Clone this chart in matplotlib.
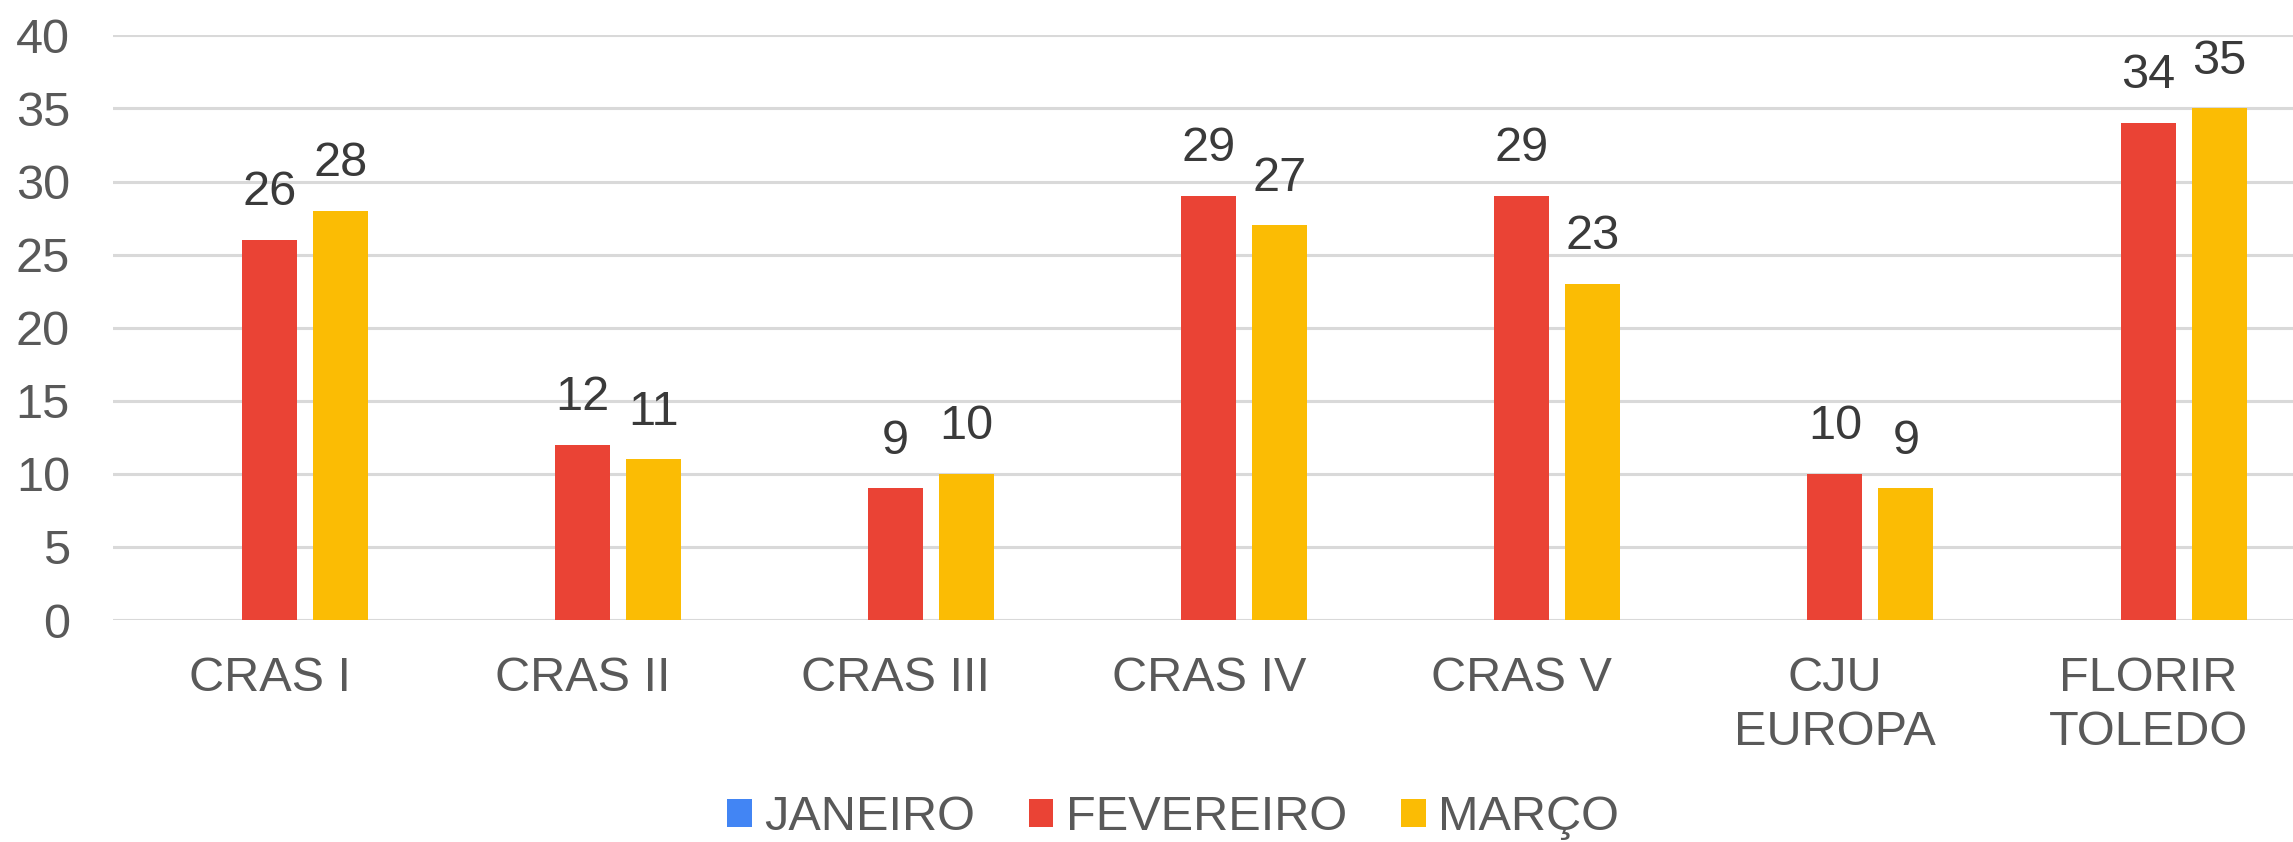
import matplotlib
matplotlib.use("Agg")
import matplotlib.pyplot as plt
import numpy as np

categories = ["CRAS I", "CRAS II", "CRAS III", "CRAS IV", "CRAS V", "CJU\nEUROPA", "FLORIR\nTOLEDO"]
series_names = ["JANEIRO", "FEVEREIRO", "MARÇO"]
janeiro = [0, 0, 0, 0, 0, 0, 0]
fevereiro = [26, 12, 9, 29, 29, 10, 34]
marco = [28, 11, 10, 27, 23, 9, 35]
colors = ["#4285F4", "#EA4335", "#FBBC04"]
y_ticks = [0, 5, 10, 15, 20, 25, 30, 35, 40]

plt.rcParams['font.family'] = ['Liberation Sans', 'DejaVu Sans']

W, H = 2293, 842
fig = plt.figure(figsize=(W / 100, H / 100), dpi=100)
left = 113 / W
right = 2304.6 / W
bottom = 1 - 620 / H
top = 1 - 35.4 / H
ax = fig.add_axes([left, bottom, right - left, top - bottom])

x = np.arange(len(categories))
width = 0.1756
offset = 0.2267
fs = 35
axis_color = "#595959"
label_color = "#3a3a3a"

all_series = [janeiro, fevereiro, marco]
for i, (vals, name, c) in enumerate(zip(all_series, series_names, colors)):
    pos = x + (i - 1) * offset
    bars = ax.bar(pos, vals, width=width, color=c, label=name, zorder=3)
    for b, v in zip(bars, vals):
        if v:
            ax.annotate(str(v), (b.get_x() + b.get_width() / 2, v),
                        xytext=(0, 25), textcoords="offset points",
                        ha="center", va="baseline", fontsize=fs, color=label_color)

ax.set_xlim(-0.5, len(categories) - 0.5)
ax.set_ylim(0, 40)
ax.set_yticks(y_ticks)
ax.set_yticklabels([str(t) for t in y_ticks])
ax.set_xticks(x)
ax.set_xticklabels(categories, linespacing=1.25)
ax.tick_params(axis="y", length=0, pad=31, labelsize=fs, labelcolor=axis_color)
ax.tick_params(axis="x", length=0, pad=26, labelsize=fs, labelcolor=axis_color)
ax.yaxis.grid(True, color="#d9d9d9", linewidth=2.2, zorder=0)
ax.set_axisbelow(True)
for s in ax.spines.values():
    s.set_visible(False)

leg = fig.legend(loc="center", bbox_to_anchor=(1173 / W, 1 - 818 / H), ncol=3,
                 frameon=False, fontsize=fs, handlelength=0.5, handleheight=0.5,
                 handletextpad=0.25, columnspacing=1.12, borderpad=0,
                 labelcolor=axis_color)

fig.savefig("out.png", dpi=100)
